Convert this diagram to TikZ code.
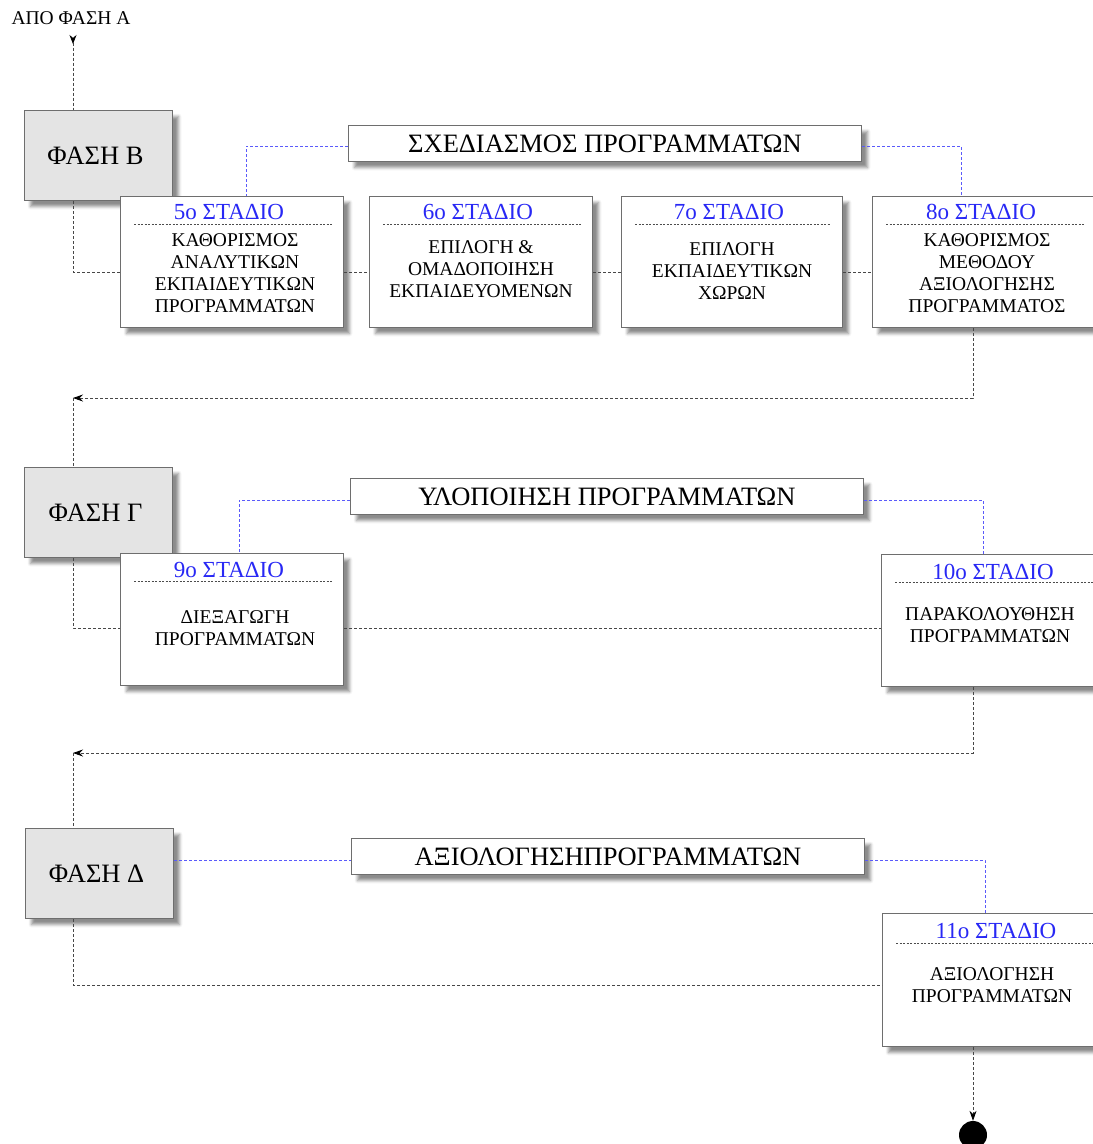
\documentclass[tikz,border=0pt]{standalone}
\usepackage{fontspec}
\setmainfont{Liberation Serif}
\usetikzlibrary{calc,arrows.meta,shadows,shadows.blur}
\definecolor{stageblue}{RGB}{40,40,245}
\definecolor{linkblue}{RGB}{90,90,250}
\definecolor{framegray}{RGB}{110,110,110}
\definecolor{phasefill}{RGB}{228,228,228}
\begin{document}
\begin{tikzpicture}[x=1pt,y=-1pt,
  boxshadow/.style={blur shadow={shadow xshift=6pt,shadow yshift=-6pt,shadow blur radius=3pt,shadow opacity=45}},
  phasebox/.style={draw=framegray,line width=1pt,fill=phasefill,boxshadow,inner sep=0pt,
    minimum width=148pt,minimum height=90pt,anchor=north west,
    font=\fontsize{26.5}{30}\selectfont,text depth=0pt},
  titlebox/.style={draw=framegray,line width=1pt,fill=white,boxshadow,inner sep=0pt,
    minimum width=513pt,minimum height=36pt,anchor=north west,font=\fontsize{26.5}{30}\selectfont},
  stagebox/.style={draw=framegray,line width=1pt,fill=white,boxshadow,inner sep=0pt,
    minimum width=223pt,minimum height=131pt,anchor=north west},
  stagehead/.style={text=stageblue,font=\fontsize{23}{26}\selectfont,inner sep=0pt},
  stagetext/.style={align=center,font=\fontsize{19.5}{22}\selectfont,inner sep=0pt},
  headrule/.style={draw=black!70,line width=0.6pt,dash pattern=on 2pt off 1.5pt},
  gline/.style={draw=black!72,line width=0.8pt,dash pattern=on 3pt off 2pt},
  bline/.style={draw=linkblue,line width=0.8pt,dash pattern=on 3pt off 2pt},
  tip/.style={-{Stealth[length=10pt,width=7pt,black]}}
]
\useasboundingbox (0,0) rectangle (1093,1144);
\clip (0,0) rectangle (1093,1144);

% incoming flow
\node[font=\fontsize{19.5}{22}\selectfont,inner sep=0pt] (fromA) at (71,18) {ΑΠΟ ΦΑΣΗ Α};
\coordinate (inB) at (73,35);

% ---------- phase B ----------
\node[phasebox] (pB) at (24,110) {\hspace*{-6pt}ΦΑΣΗ Β};
\node[titlebox] (tB) at (348,125) {ΣΧΕΔΙΑΣΜΟΣ ΠΡΟΓΡΑΜΜΑΤΩΝ};

\node[stagebox] (s5) at (120,196) {};
\node[stagebox] (s6) at (369,196) {};
\node[stagebox,minimum width=221pt] (s7) at (621,196) {};
\node[stagebox] (s8) at (872,196) {};

\node[stagehead] at ($(s5.north)+(-3,16)$) {5o ΣΤΑΔΙΟ};
\node[stagehead] at ($(s6.north)+(-3,16)$) {6o ΣΤΑΔΙΟ};
\node[stagehead] at ($(s7.north)+(-3,16)$) {7o ΣΤΑΔΙΟ};
\node[stagehead] at ($(s8.north)+(-3,16)$) {8o ΣΤΑΔΙΟ};
\foreach \s in {s5,s6,s7,s8}{
  \draw[headrule] ($(\s.north west)+(14,28)$) -- ($(\s.north east)+(-12,28)$);
}
\node[stagetext] at ($(s5.north)+(3,77)$) {ΚΑΘΟΡΙΣΜΟΣ\\ΑΝΑΛΥΤΙΚΩΝ\\ΕΚΠΑΙΔΕΥΤΙΚΩΝ\\ΠΡΟΓΡΑΜΜΑΤΩΝ};
\node[stagetext] at ($(s6.north)+(0,73)$) {ΕΠΙΛΟΓΗ \&\\ΟΜΑΔΟΠΟΙΗΣΗ\\ΕΚΠΑΙΔΕΥΟΜΕΝΩΝ};
\node[stagetext] at ($(s7.north)+(0,75)$) {ΕΠΙΛΟΓΗ\\ΕΚΠΑΙΔΕΥΤΙΚΩΝ\\ΧΩΡΩΝ};
\node[stagetext] at ($(s8.north)+(3,77)$) {ΚΑΘΟΡΙΣΜΟΣ\\ΜΕΘΟΔΟΥ\\ΑΞΙΟΛΟΓΗΣΗΣ\\ΠΡΟΓΡΑΜΜΑΤΟΣ};

% ---------- phase C ----------
\node[phasebox] (pC) at (24,467) {\hspace*{-6pt}ΦΑΣΗ Γ};
\node[titlebox] (tC) at (350,478) {ΥΛΟΠΟΙΗΣΗ ΠΡΟΓΡΑΜΜΑΤΩΝ};

\node[stagebox,minimum height=132pt] (s9) at (120,553) {};
\node[stagebox,minimum height=132pt] (s10) at (881,554) {};
\node[stagehead] at ($(s9.north)+(-3,17)$) {9o ΣΤΑΔΙΟ};
\node[stagehead] at ($(s10.north)+(0,18)$) {10o ΣΤΑΔΙΟ};
\foreach \s in {s9,s10}{
  \draw[headrule] ($(\s.north west)+(14,28)$) -- ($(\s.north east)+(-12,28)$);
}
\node[stagetext] at ($(s9.north)+(3,75)$) {ΔΙΕΞΑΓΩΓΗ\\ΠΡΟΓΡΑΜΜΑΤΩΝ};
\node[stagetext] at ($(s10.north)+(-3,71)$) {ΠΑΡΑΚΟΛΟΥΘΗΣΗ\\ΠΡΟΓΡΑΜΜΑΤΩΝ};

% ---------- phase D ----------
\node[phasebox] (pD) at (25,828) {\hspace*{-6pt}ΦΑΣΗ Δ};
\node[titlebox] (tD) at (351,838) {ΑΞΙΟΛΟΓΗΣΗΠΡΟΓΡΑΜΜΑΤΩΝ};

\node[stagebox,minimum height=133pt] (s11) at (882,913) {};
\node[stagehead] at ($(s11.north)+(2,18)$) {11o ΣΤΑΔΙΟ};
\draw[headrule] ($(s11.north west)+(14,30)$) -- ($(s11.north east)+(-12,30)$);
\node[stagetext] at ($(s11.north)+(-2,72)$) {ΑΞΙΟΛΟΓΗΣΗ\\ΠΡΟΓΡΑΜΜΑΤΩΝ};

\node[circle,fill=black,minimum size=28pt,inner sep=0pt] (stop) at (973,1135) {};

% ---------- connectors ----------
% flow into phase B
\draw[gline,{Stealth[length=9pt,width=7pt,reversed,black]}-] (inB) -- (pB.north-|inB);

% phase B chain
\coordinate (bB) at (73,272);
\draw[gline] (pB.south-|bB) -- (bB) -- (s5.west|-bB);
\draw[gline] (s5.east|-bB) -- (s6.west|-bB);
\draw[gline] (s6.east|-bB) -- (s7.west|-bB);
\draw[gline] (s7.east|-bB) -- (s8.west|-bB);
\draw[bline] (tB.west|-0,146) -- (246,146) -- (s5.north-|246,0);
\draw[bline] (tB.east|-0,146) -- (961,146) -- (s8.north-|961,0);

% return to phase C
\coordinate (rB) at (973,398);
\coordinate (jC) at (73,398);
\draw[gline,tip] (s8.south-|rB) -- (rB) -- (jC);
\draw[gline] (jC) -- (pC.north-|jC);

% phase C chain
\coordinate (bC) at (73,628);
\draw[gline] (pC.south-|bC) -- (bC) -- (s9.west|-bC);
\draw[gline] (s9.east|-bC) -- (s10.west|-bC);
\draw[bline] (tC.west|-0,500) -- (239,500) -- (s9.north-|239,0);
\draw[bline] (tC.east|-0,500) -- (983,500) -- (s10.north-|983,0);

% return to phase D
\coordinate (rC) at (973,753);
\coordinate (jD) at (73,753);
\draw[gline,tip] (s10.south-|rC) -- (rC) -- (jD);
\draw[gline] (jD) -- (pD.north-|jD);

% phase D chain
\coordinate (bD) at (73,985);
\draw[gline] (pD.south-|bD) -- (bD) -- (s11.west|-bD);
\draw[bline] (pD.east|-0,860) -- (tD.west|-0,860);
\draw[bline] (tD.east|-0,860) -- (985,860) -- (s11.north-|985,0);

% end of flow
\draw[gline,tip] (s11.south-|stop) -- (stop.north);
\end{tikzpicture}
\end{document}
